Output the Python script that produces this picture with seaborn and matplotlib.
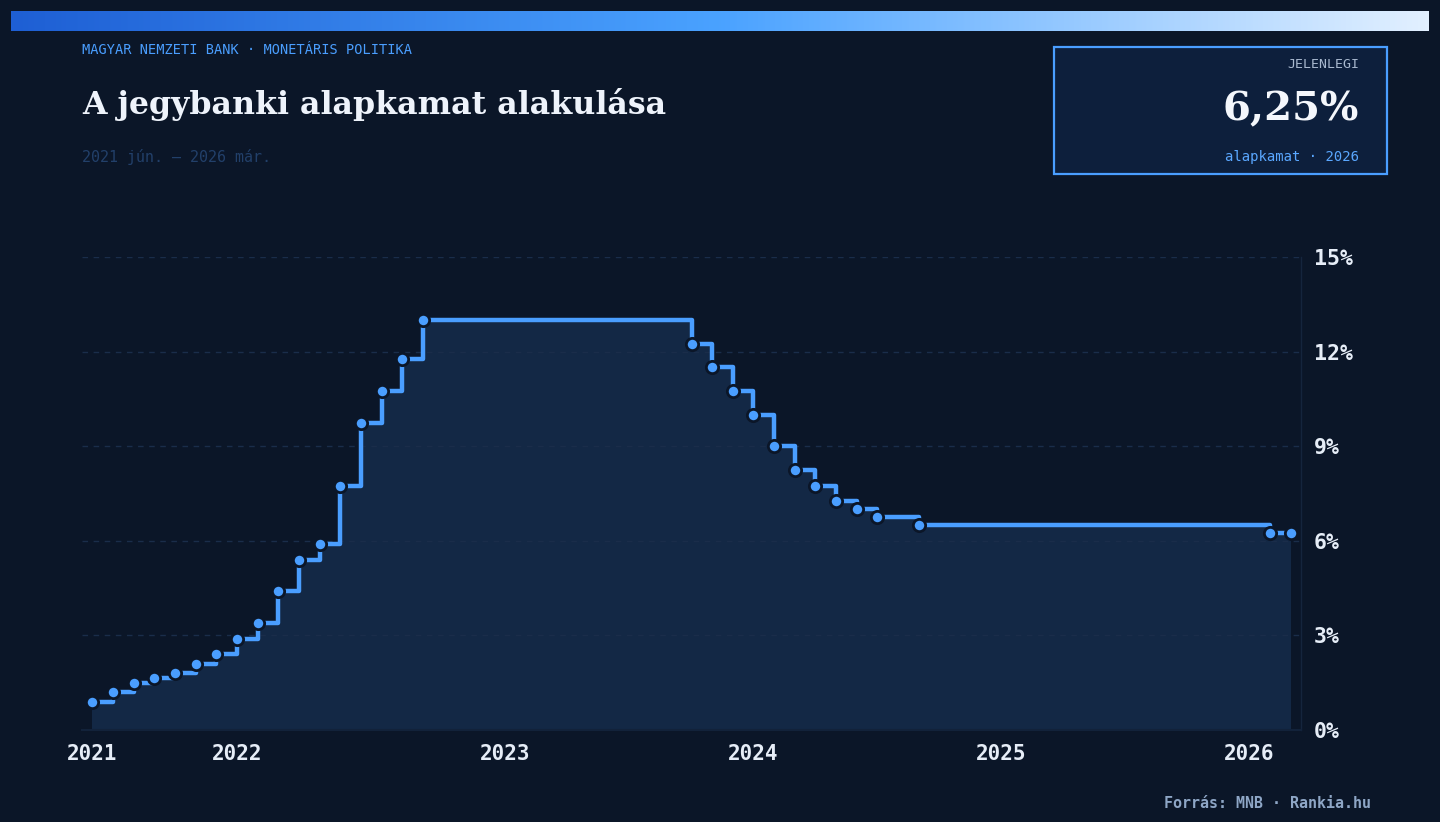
import numpy as np
import pandas as pd
import seaborn as sns
import matplotlib.pyplot as plt
from matplotlib.colors import LinearSegmentedColormap
from matplotlib.patches import Rectangle

# monthly base rate (two decisions in 2022-07)
honapok = [
    "2021-06", "2021-07", "2021-08", "2021-09", "2021-10", "2021-11", "2021-12",
    "2022-01", "2022-02", "2022-03", "2022-04", "2022-05", "2022-06", "2022-07",
    "2022-07", "2022-08", "2022-09", "2022-10", "2022-11", "2022-12",
    "2023-01", "2023-02", "2023-03", "2023-04", "2023-05", "2023-06", "2023-07",
    "2023-08", "2023-09", "2023-10", "2023-11", "2023-12",
    "2024-01", "2024-02", "2024-03", "2024-04", "2024-05", "2024-06", "2024-07",
    "2024-08", "2024-09", "2024-10", "2024-11", "2024-12",
    "2025-01", "2025-02", "2025-03", "2025-04", "2025-05", "2025-06", "2025-07",
    "2025-08", "2025-09", "2025-10", "2025-11", "2025-12",
    "2026-01", "2026-02", "2026-03",
]
alapkamat = [
    0.90, 1.20, 1.50, 1.65, 1.80, 2.10, 2.40,
    2.90, 3.40, 4.40, 5.40, 5.90, 7.75, 9.75,
    10.75, 11.75, 13.00, 13.00, 13.00, 13.00,
    13.00, 13.00, 13.00, 13.00, 13.00, 13.00, 13.00,
    13.00, 13.00, 12.25, 11.50, 10.75,
    10.00, 9.00, 8.25, 7.75, 7.25, 7.00, 6.75,
    6.75, 6.50, 6.50, 6.50, 6.50,
    6.50, 6.50, 6.50, 6.50, 6.50, 6.50, 6.50,
    6.50, 6.50, 6.50, 6.50, 6.50,
    6.50, 6.25, 6.25,
]
y_ticks = [0, 3, 6, 9, 12, 15]

BG = "#0b1628"
BLUE = "#4a9eff"
FILL = "#132845"

df = pd.DataFrame({"honap": honapok, "kamat": alapkamat})
df["i"] = np.arange(len(df))
valtozas = df["kamat"].diff().ne(0)
valtozas.iloc[-1] = True
pontok = df[valtozas]
ev_pos = df.groupby(df["honap"].str[:4])["i"].first()

sns.set_style("dark", rc={"axes.facecolor": BG, "figure.facecolor": BG})
plt.rcParams["font.family"] = ["DejaVu Sans Mono", "DejaVu Sans"]

fig = plt.figure(figsize=(14.4, 8.22), dpi=100)
W, H = 1440, 822

# gradient bar on top
bar = fig.add_axes([11 / W, 1 - 31 / H, 1418 / W, 20 / H])
cmap = LinearSegmentedColormap.from_list("g", ["#1e5fd4", "#4aa2ff", "#e2f0ff"])
bar.imshow(np.linspace(0, 1, 512)[None, :], aspect="auto", cmap=cmap)
bar.set_axis_off()

ax = fig.add_axes([82 / W, 1 - 730 / H, (1301 - 82) / W, (730 - 257) / H])

ax.fill_between(df["i"], df["kamat"], step="post", color=FILL, lw=0, zorder=0.2)
sns.lineplot(data=df, x="i", y="kamat", drawstyle="steps-post", color=BLUE,
             lw=3.2, solid_capstyle="round", solid_joinstyle="round", ax=ax, zorder=3)
sns.scatterplot(data=pontok, x="i", y="kamat", color=BLUE, s=78,
                edgecolor=BG, linewidth=2, ax=ax, zorder=4)

ax.set_xlim(-0.5, len(df) - 0.5)
ax.set_ylim(0, 15)
ax.set_xticks(ev_pos.values)
ax.set_xticklabels(ev_pos.index)
ax.set_yticks(y_ticks)
ax.set_yticklabels([f"{t}%" for t in y_ticks])
ax.yaxis.tick_right()
ax.tick_params(axis="both", length=0, labelsize=15, labelcolor="#e6edf7")
ax.tick_params(axis="y", pad=9, labelsize=15.5)
ax.tick_params(axis="x", pad=10)
for lab in ax.get_xticklabels() + ax.get_yticklabels():
    lab.set_fontweight("bold")
ax.grid(axis="y", color="#1a2d4a", lw=1, ls=(0, (4, 4)))
ax.grid(axis="x", visible=False)
ax.set_xlabel("")
ax.set_ylabel("")
for s in ["top", "left"]:
    ax.spines[s].set_visible(False)
ax.spines["right"].set_color("#15253d")
ax.spines["bottom"].set_color("#12223a")
ax.spines["right"].set_linewidth(1)
ax.spines["bottom"].set_linewidth(1.5)

# header
fig.text(82 / W, 1 - 50 / H, "MAGYAR NEMZETI BANK · MONETÁRIS POLITIKA",
         color=BLUE, fontsize=9.8, va="center", ha="left")
fig.text(82 / W, 1 - 114 / H, "A jegybanki alapkamat alakulása",
         family="DejaVu Serif", fontweight="bold", color="#eef3fb",
         fontsize=22.8, va="baseline", ha="left")
fig.text(82 / W, 1 - 157 / H, "2021 jún. – 2026 már.",
         color="#22406a", fontsize=10.8, va="center", ha="left")

# current value box
fig.add_artist(Rectangle((1054 / W, 1 - 174 / H), (1387 - 1054) / W, (174 - 47) / H,
                         transform=fig.transFigure, facecolor="#0d1f3c",
                         edgecolor=BLUE, lw=1.6))
fig.text(1359 / W, 1 - 65 / H, "JELENLEGI", color="#a9b9cf", fontsize=9.5,
         va="center", ha="right")
fig.text(1359 / W, 1 - 120 / H, "6,25%", family="DejaVu Serif", fontweight="bold",
         color="#f4f7fc", fontsize=29, va="baseline", ha="right")
fig.text(1359 / W, 1 - 157 / H, "alapkamat · 2026", color="#5aa7ff", fontsize=10,
         va="center", ha="right")

fig.text(1371 / W, 1 - 803 / H, "Forrás: MNB · Rankia.hu", color="#8ea6c6",
         fontsize=10.8, fontweight="bold", va="center", ha="right")

fig.savefig("out.png", dpi=100, facecolor=BG)
